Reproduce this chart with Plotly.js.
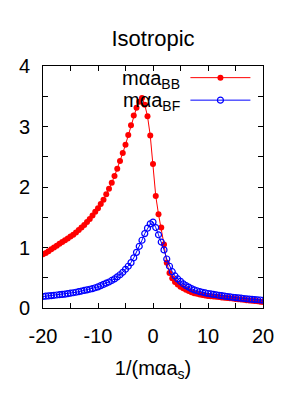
<!DOCTYPE html>
<html>
<head>
<meta charset="utf-8">
<script src="https://cdn.plot.ly/plotly-3.0.1.min.js"></script>
<style>html,body{margin:0;padding:0;background:#fff;}#chart{width:300px;height:400px;}</style>
</head>
<body>
<div id="chart"></div>
<script>
// 1/(m alpha a_s) grid
const xInv = [
-20,-19.5,-19,-18.5,-18,-17.5,-17,-16.5,-16,-15.5,-15,-14.5,-14,-13.5,-13,-12.5,-12,-11.5,-11,-10.5,
-10,-9.5,-9,-8.5,-8,-7.5,-7,-6.5,-6,-5.5,-5,-4.5,-4,-3.5,-3,-2.5,-2,-1.5,-1,-0.5,
0,0.5,1,1.5,2,2.5,3,3.5,4,4.5,5,5.5,6,6.5,7,7.5,8,8.5,9,9.5,
10,10.5,11,11.5,12,12.5,13,13.5,14,14.5,15,15.5,16,16.5,17,17.5,18,18.5,19,19.5,20];

// m alpha a_BB
const aBB = [
0.89,0.91,0.94,0.97,1.00,1.03,1.06,1.09,1.12,1.15,1.18,1.21,1.25,1.29,1.33,1.37,1.42,1.47,1.53,1.59,
1.65,1.72,1.79,1.88,1.97,2.07,2.18,2.30,2.43,2.56,2.70,2.86,3.02,3.18,3.31,3.41,3.47,3.36,3.17,2.85,
2.38,1.85,1.55,1.33,1.05,0.75,0.58,0.49,0.43,0.39,0.35,0.325,0.30,0.28,0.26,0.245,0.235,0.225,0.215,0.207,
0.20,0.195,0.19,0.185,0.18,0.175,0.17,0.165,0.16,0.155,0.15,0.145,0.14,0.135,0.13,0.125,0.12,0.115,0.11,0.105,0.10];

// m alpha a_BF
const aBF = [
0.19,0.195,0.20,0.205,0.21,0.215,0.22,0.225,0.23,0.237,0.245,0.252,0.26,0.27,0.28,0.29,0.30,0.31,0.32,0.335,
0.35,0.37,0.39,0.41,0.43,0.455,0.48,0.515,0.55,0.59,0.64,0.69,0.75,0.83,0.92,1.02,1.12,1.23,1.32,1.39,
1.42,1.33,1.21,1.09,0.96,0.81,0.69,0.60,0.53,0.48,0.44,0.40,0.37,0.345,0.32,0.30,0.285,0.27,0.26,0.25,
0.24,0.232,0.225,0.218,0.21,0.203,0.196,0.19,0.184,0.178,0.172,0.167,0.162,0.157,0.152,0.148,0.144,0.14,0.136,0.132,0.128];

const labelBB = 'm\u03b1a<sub>BB</sub>';
const labelBF = 'm\u03b1a<sub>BF</sub>';
const xTickVals = [-20,-10,0,10,20];
const yTickVals = [0,1,2,3,4];

const FONT = 'Liberation Sans, Arial, Helvetica, sans-serif';

const traces = [
  {x: xInv, y: aBB, type: 'scatter', mode: 'lines+markers', name: ' ',
   line: {color: '#ff0000', width: 1},
   marker: {color: '#ff0000', size: 6, symbol: 'circle'}},
  {x: xInv, y: aBF, type: 'scatter', mode: 'lines+markers', name: ' ',
   line: {color: '#0000ff', width: 1},
   marker: {color: '#0000ff', size: 6, symbol: 'circle-open', line: {color: '#0000ff', width: 1.2}}}
];

const axisCommon = {
  showgrid: false, zeroline: false, showline: true, linecolor: '#000', linewidth: 1,
  mirror: 'allticks', ticks: 'inside', ticklen: 5, tickwidth: 1, tickcolor: '#000',
  tickfont: {family: FONT, size: 20, color: '#000'},
  minor: {ticks: 'inside', ticklen: 5, tickwidth: 1, tickcolor: '#000', showgrid: false}
};

const layout = {
  width: 300, height: 400,
  margin: {l: 43, r: 37, t: 66, b: 92, pad: 0},
  paper_bgcolor: '#fff', plot_bgcolor: '#fff',
  font: {family: FONT, size: 20, color: '#000'},
  title: {text: 'Isotropic', font: {family: FONT, size: 22, color: '#000'},
          x: 0.5, xref: 'paper', xanchor: 'center', y: 1 - 38/400, yref: 'container', yanchor: 'middle'},
  xaxis: Object.assign({}, axisCommon, {
    range: [-20, 20], tickvals: xTickVals, ticktext: xTickVals.map(String),
    minor: Object.assign({}, axisCommon.minor, {dtick: 5, tick0: 0}),
    ticklabelstandoff: 10,
    title: {text: '1/(m\u03b1a<sub>s</sub>)', font: {family: FONT, size: 20, color: '#000'}, standoff: 14}
  }),
  yaxis: Object.assign({}, axisCommon, {
    range: [0, 4], tickvals: yTickVals, ticktext: yTickVals.map(String),
    minor: Object.assign({}, axisCommon.minor, {dtick: 0.5, tick0: 0}),
    ticklabelstandoff: 8
  }),
  showlegend: true,
  legend: {x: 1.011, xanchor: 'right', y: 1.019, yanchor: 'top', bgcolor: 'rgba(0,0,0,0)',
           borderwidth: 0, itemwidth: 60, tracegroupgap: 0,
           font: {family: FONT, size: 15}},
  annotations: [
    {text: labelBB, xref: 'paper', yref: 'paper', x: 0.63, y: 0.945, xanchor: 'right', yanchor: 'middle',
     showarrow: false, font: {family: FONT, size: 20, color: '#000'}},
    {text: labelBF, xref: 'paper', yref: 'paper', x: 0.63, y: 0.855, xanchor: 'right', yanchor: 'middle',
     showarrow: false, font: {family: FONT, size: 20, color: '#000'}}
  ]
};

Plotly.newPlot('chart', traces, layout, {displayModeBar: false, staticPlot: true});
</script>
</body>
</html>
